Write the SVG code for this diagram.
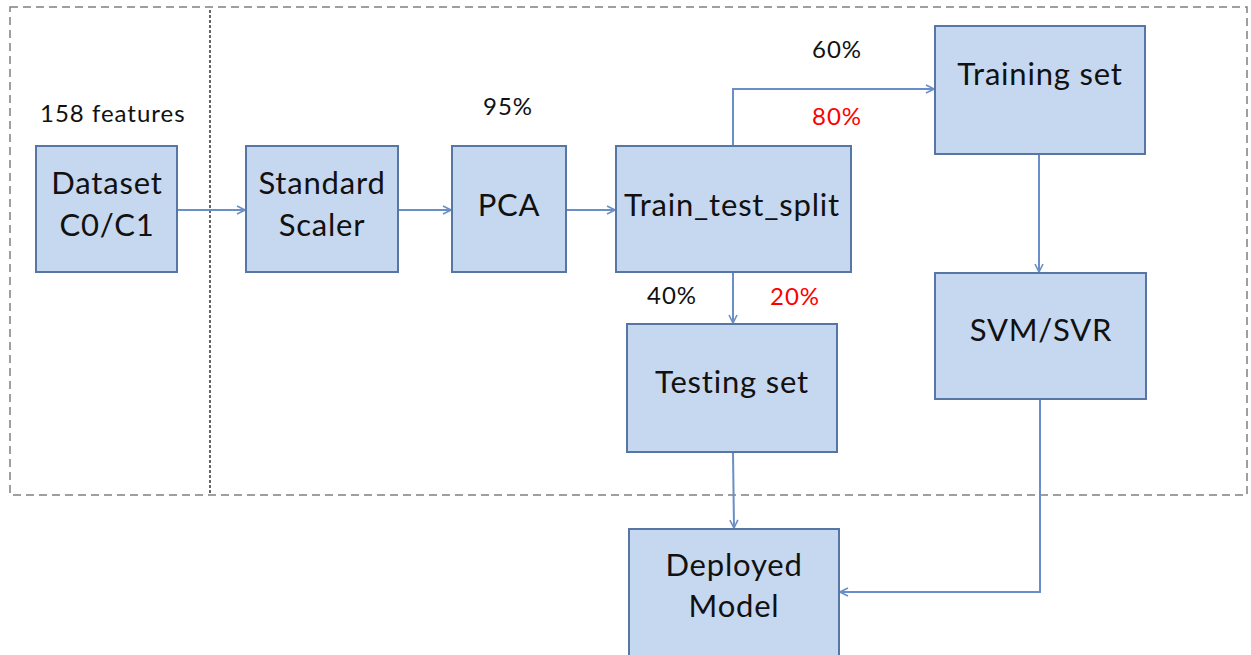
<svg xmlns="http://www.w3.org/2000/svg" width="1251" height="655" viewBox="0 0 1251 655">
  <style>
    .box { fill: #c6d8ef; stroke: #5677a3; stroke-width: 2; }
    .lbl { font-family: Lato, "Open Sans", sans-serif; font-size: 31px; letter-spacing: 0.8px; fill: #111; text-anchor: middle; }
    .pct { font-family: Lato, "Open Sans", sans-serif; font-size: 24px; letter-spacing: 1px; fill: #111; }
    .red { fill: #ff0000; }
    .wire { fill: none; stroke: #6a8fc6; stroke-width: 2; marker-end: url(#arrow); }
    .frame { fill: none; stroke: #808080; stroke-width: 1.5; stroke-dasharray: 8 5; }
  </style>
  <defs>
    <marker id="arrow" viewBox="0 0 10 10" refX="9" refY="5" markerWidth="10" markerHeight="10" markerUnits="userSpaceOnUse" orient="auto">
      <path d="M1,1 L9,5 L1,9" fill="none" stroke="#6a8fc6" stroke-width="1.6"/>
    </marker>
  </defs>

  <rect width="1251" height="655" fill="#ffffff"/>

  <!-- outer dashed frame and separator -->
  <g id="frame">
    <rect class="frame" x="10" y="7" width="1237" height="488"/>
    <line x1="210" y1="10" x2="210" y2="495" stroke="#555" stroke-width="1.8" stroke-dasharray="3 2"/>
  </g>

  <!-- connectors -->
  <g id="connectors">
    <line class="wire" x1="177" y1="210" x2="245" y2="210"/>
    <line class="wire" x1="398" y1="210" x2="451" y2="210"/>
    <line class="wire" x1="566" y1="210" x2="615" y2="210"/>
    <polyline class="wire" points="733,146 733,89 934,89"/>
    <line class="wire" x1="1039" y1="154" x2="1039" y2="272"/>
    <line class="wire" x1="733" y1="273" x2="733" y2="323"/>
    <line class="wire" x1="733" y1="452" x2="734" y2="528"/>
    <polyline class="wire" points="1040,399 1040,592 840,592"/>
  </g>

  <!-- annotations -->
  <g id="labels">
    <text class="pct" x="40" y="122">158 features</text>
    <text class="pct" x="483" y="115">95%</text>
    <text class="pct" x="812" y="58">60%</text>
    <text class="pct red" x="812" y="125">80%</text>
    <text class="pct" x="647" y="304">40%</text>
    <text class="pct red" x="770" y="305">20%</text>
  </g>

  <g id="dataset">
    <rect class="box" x="36" y="146" width="141" height="126"/>
    <text class="lbl" x="107" y="194">Dataset</text>
    <text class="lbl" x="107" y="236">C0/C1</text>
  </g>
  <g id="scaler">
    <rect class="box" x="246" y="146" width="152" height="126"/>
    <text class="lbl" x="322" y="194">Standard</text>
    <text class="lbl" x="322" y="236">Scaler</text>
  </g>
  <g id="pca">
    <rect class="box" x="452" y="146" width="114" height="126"/>
    <text class="lbl" x="509" y="216">PCA</text>
  </g>
  <g id="split">
    <rect class="box" x="616" y="146" width="235" height="126"/>
    <text class="lbl" x="732" y="216">Train_test_split</text>
  </g>
  <g id="training">
    <rect class="box" x="935" y="26" width="210" height="128"/>
    <text class="lbl" x="1040" y="85">Training set</text>
  </g>
  <g id="svm">
    <rect class="box" x="935" y="273" width="211" height="126"/>
    <text class="lbl" x="1041" y="341">SVM/SVR</text>
  </g>
  <g id="testing">
    <rect class="box" x="627" y="324" width="210" height="128"/>
    <text class="lbl" x="732" y="393">Testing set</text>
  </g>
  <g id="deployed">
    <rect class="box" x="629" y="529" width="210" height="140"/>
    <text class="lbl" x="734" y="576">Deployed</text>
    <text class="lbl" x="734" y="617">Model</text>
  </g>
</svg>
